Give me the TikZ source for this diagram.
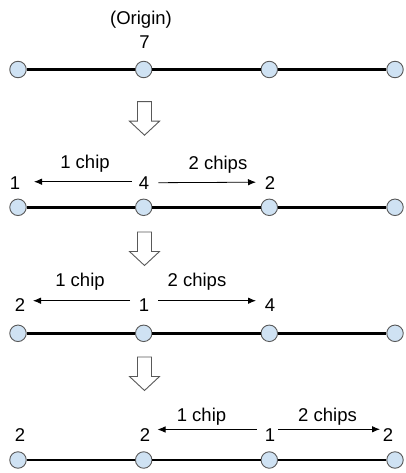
\documentclass[tikz,border=0pt]{standalone}
\usepackage{fontspec}
\setmainfont{Liberation Sans}
\usetikzlibrary{arrows.meta}
\definecolor{dotfill}{HTML}{CFE2F3}
\definecolor{dotline}{HTML}{595959}
\begin{document}
\begin{tikzpicture}[x=1pt,y=-1pt,
  dot/.style={circle,draw=dotline,fill=dotfill,line width=0.9pt,minimum size=16.5pt,inner sep=0pt},
  bar/.style={line width=2.5pt,black},
  lbl/.style={font=\fontsize{18.5}{20}\selectfont,inner sep=0pt,anchor=base},
  chip/.style={-{Latex[length=8pt,width=6.5pt]},line width=0.8pt},
  hollow/.style={draw=dotline,line width=0.9pt,fill=white,line join=miter}]
\useasboundingbox (0,0) rectangle (406,473);
% rows of dots
\foreach \r/\y in {1/69.5,2/207.3,3/333.3,4/460}{
  \node[dot] (p\r a) at (18,\y) {};
  \node[dot] (p\r b) at (143.7,\y) {};
  \node[dot] (p\r c) at (269.3,\y) {};
  \node[dot] (p\r d) at (395,\y) {};
  \draw[bar] (p\r a) -- (p\r b);
  \draw[bar] (p\r b) -- (p\r c);
  \draw[bar] (p\r c) -- (p\r d);
}
% hollow step arrows
\foreach \t in {101.7,232,357}{
  \draw[hollow] (137.5,\t) -- (151.5,\t) -- (151.5,\t+19.5) -- (159.5,\t+19.5)
     -- (144.5,\t+33.5) -- (129.5,\t+19.5) -- (137.5,\t+19.5) -- cycle;
}
% row 1
\node[lbl] (origin) at (141,24.5) {(Origin)};
\node[lbl] (n1b) at (144.5,49) {7};
% row 2
\node[lbl] (n2a) at (15,189.5) {1};
\node[lbl] (n2b) at (144,189.5) {4};
\node[lbl] (n2c) at (270,189.5) {2};
\node[lbl] (c2l) at (85,168.5) {1 chip};
\node[lbl] (c2r) at (218,169) {2 chips};
\coordinate (s2l) at (131.7,181.7);
\coordinate (e2l) at (34,181.7);
\coordinate (s2r) at (158.3,182.7);
\coordinate (e2r) at (256,182.2);
\draw[chip] (s2l) -- (e2l);
\draw[chip] (s2r) -- (e2r);
% row 3
\node[lbl] (n3a) at (20,311.5) {2};
\node[lbl] (n3b) at (144,311.5) {1};
\node[lbl] (n3c) at (270,311.5) {4};
\node[lbl] (c3l) at (80,286) {1 chip};
\node[lbl] (c3r) at (197,286) {2 chips};
\coordinate (s3l) at (130,300.7);
\coordinate (e3l) at (33,300.7);
\coordinate (s3r) at (158.3,300.7);
\coordinate (e3r) at (256,300.7);
\draw[chip] (s3l) -- (e3l);
\draw[chip] (s3r) -- (e3r);
% row 4
\node[lbl] (n4a) at (20,441.7) {2};
\node[lbl] (n4b) at (145,441.7) {2};
\node[lbl] (n4c) at (270,441.7) {1};
\node[lbl] (n4d) at (388,441.7) {2};
\node[lbl] (c4l) at (201.5,421) {1 chip};
\node[lbl] (c4r) at (327.5,421) {2 chips};
\coordinate (s4l) at (256.5,429.5);
\coordinate (e4l) at (157.5,429.5);
\coordinate (s4r) at (278.3,429.3);
\coordinate (e4r) at (380,429.3);
\draw[chip] (s4l) -- (e4l);
\draw[chip] (s4r) -- (e4r);
\end{tikzpicture}
\end{document}
